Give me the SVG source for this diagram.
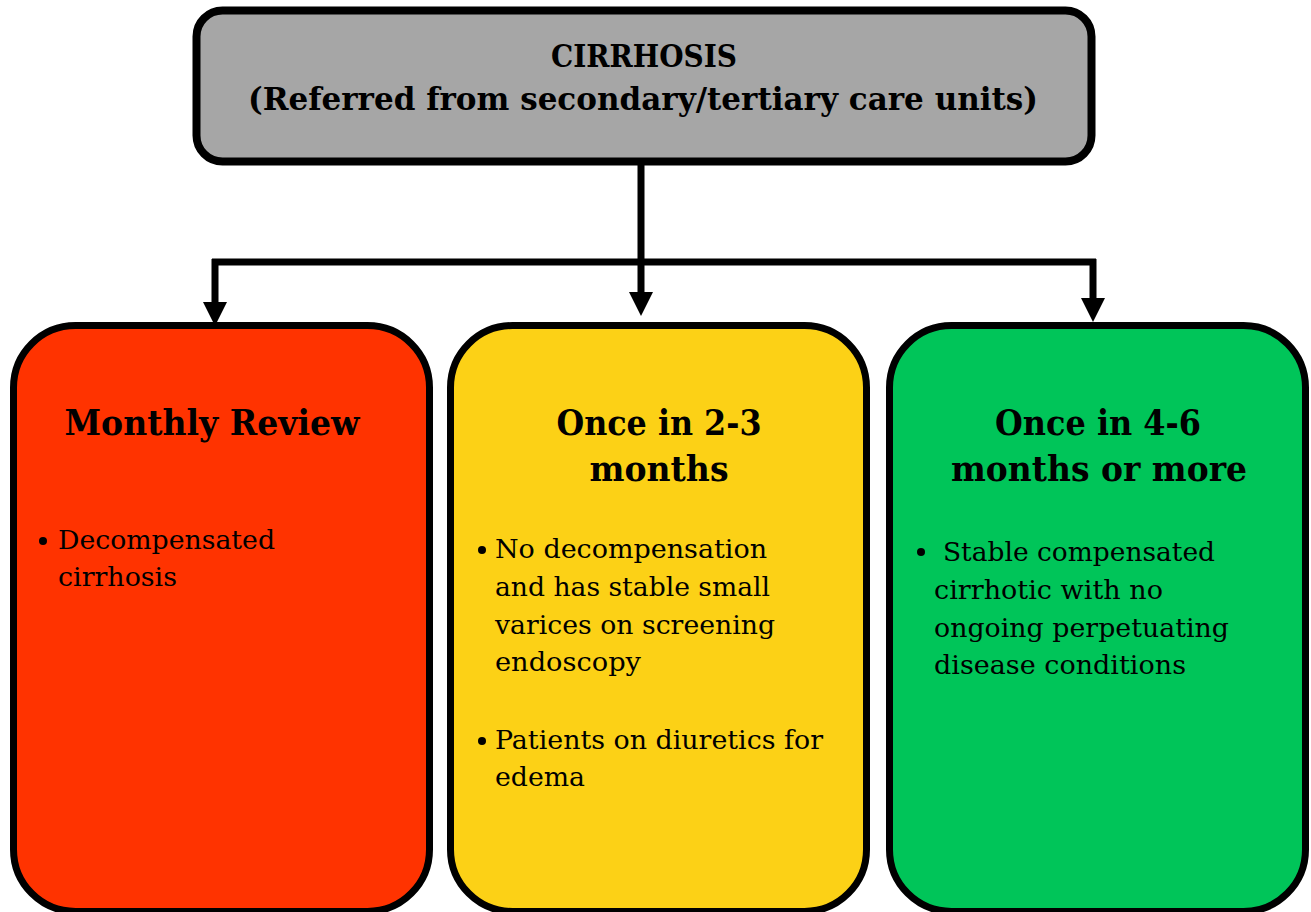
<svg xmlns="http://www.w3.org/2000/svg" width="1311" height="912" viewBox="0 0 1311 912">
<style>
.box{stroke:#000;stroke-width:7}
.h{font-family:"DejaVu Serif","Liberation Serif",serif;font-weight:bold;fill:#000}
.t{font-family:"DejaVu Serif","Liberation Serif",serif;font-size:26px;fill:#000}
.ln{stroke:#000;stroke-width:7;fill:none}
</style>
<rect width="1311" height="912" fill="#fff"/>
<g id="connectors">
<path class="ln" d="M641 165 V262 M212 262 H1096 M215 259 V304 M641 262 V294 M1093 259 V300"/>
<polygon points="203,302 227,302 215,326"/>
<polygon points="629,292 653,292 641,316"/>
<polygon points="1081,298 1105,298 1093,322"/>
</g>
<g id="cirrhosis">
<rect x="196.5" y="10.5" width="895" height="151" rx="26" fill="#A6A6A6" stroke="#000" stroke-width="8"/>
<text class="h" x="644" y="67" font-size="31" text-anchor="middle" textLength="186" lengthAdjust="spacingAndGlyphs">CIRRHOSIS</text>
<text class="h" x="643" y="110" font-size="31" text-anchor="middle" textLength="790" lengthAdjust="spacingAndGlyphs">(Referred from secondary/tertiary care units)</text>
</g>
<g id="monthly">
<rect class="box" x="13.5" y="325.5" width="416" height="586" rx="62" fill="#FF3300"/>
<text class="h" x="212" y="435" font-size="36" text-anchor="middle" textLength="295" lengthAdjust="spacingAndGlyphs">Monthly Review</text>
<circle cx="43" cy="541" r="4"/>
<text class="t" x="58" y="549" textLength="217" lengthAdjust="spacingAndGlyphs">Decompensated</text>
<text class="t" x="58" y="586" textLength="119" lengthAdjust="spacingAndGlyphs">cirrhosis</text>
</g>
<g id="twothree">
<rect class="box" x="450.5" y="325.5" width="416" height="586" rx="62" fill="#FCD116"/>
<text class="h" x="659" y="435" font-size="36" text-anchor="middle" textLength="205" lengthAdjust="spacingAndGlyphs">Once in 2-3</text>
<text class="h" x="659" y="481" font-size="36" text-anchor="middle" textLength="139" lengthAdjust="spacingAndGlyphs">months</text>
<circle cx="482" cy="550" r="4"/>
<text class="t" x="495" y="558" textLength="272" lengthAdjust="spacingAndGlyphs">No decompensation</text>
<text class="t" x="495" y="596" textLength="275" lengthAdjust="spacingAndGlyphs">and has stable small</text>
<text class="t" x="495" y="634" textLength="280" lengthAdjust="spacingAndGlyphs">varices on screening</text>
<text class="t" x="495" y="671" textLength="146" lengthAdjust="spacingAndGlyphs">endoscopy</text>
<circle cx="482" cy="741" r="4"/>
<text class="t" x="495" y="749" textLength="328" lengthAdjust="spacingAndGlyphs">Patients on diuretics for</text>
<text class="t" x="495" y="786" textLength="90" lengthAdjust="spacingAndGlyphs">edema</text>
</g>
<g id="foursix">
<rect class="box" x="889.5" y="325.5" width="416" height="586" rx="62" fill="#00C559"/>
<text class="h" x="1098" y="435" font-size="36" text-anchor="middle" textLength="206" lengthAdjust="spacingAndGlyphs">Once in 4-6</text>
<text class="h" x="1099" y="481" font-size="36" text-anchor="middle" textLength="296" lengthAdjust="spacingAndGlyphs">months or more</text>
<circle cx="921" cy="552" r="4"/>
<text class="t" x="943" y="561" textLength="272" lengthAdjust="spacingAndGlyphs">Stable compensated</text>
<text class="t" x="934" y="599" textLength="229" lengthAdjust="spacingAndGlyphs">cirrhotic with no</text>
<text class="t" x="934" y="637" textLength="295" lengthAdjust="spacingAndGlyphs">ongoing perpetuating</text>
<text class="t" x="934" y="674" textLength="252" lengthAdjust="spacingAndGlyphs">disease conditions</text>
</g>
</svg>
